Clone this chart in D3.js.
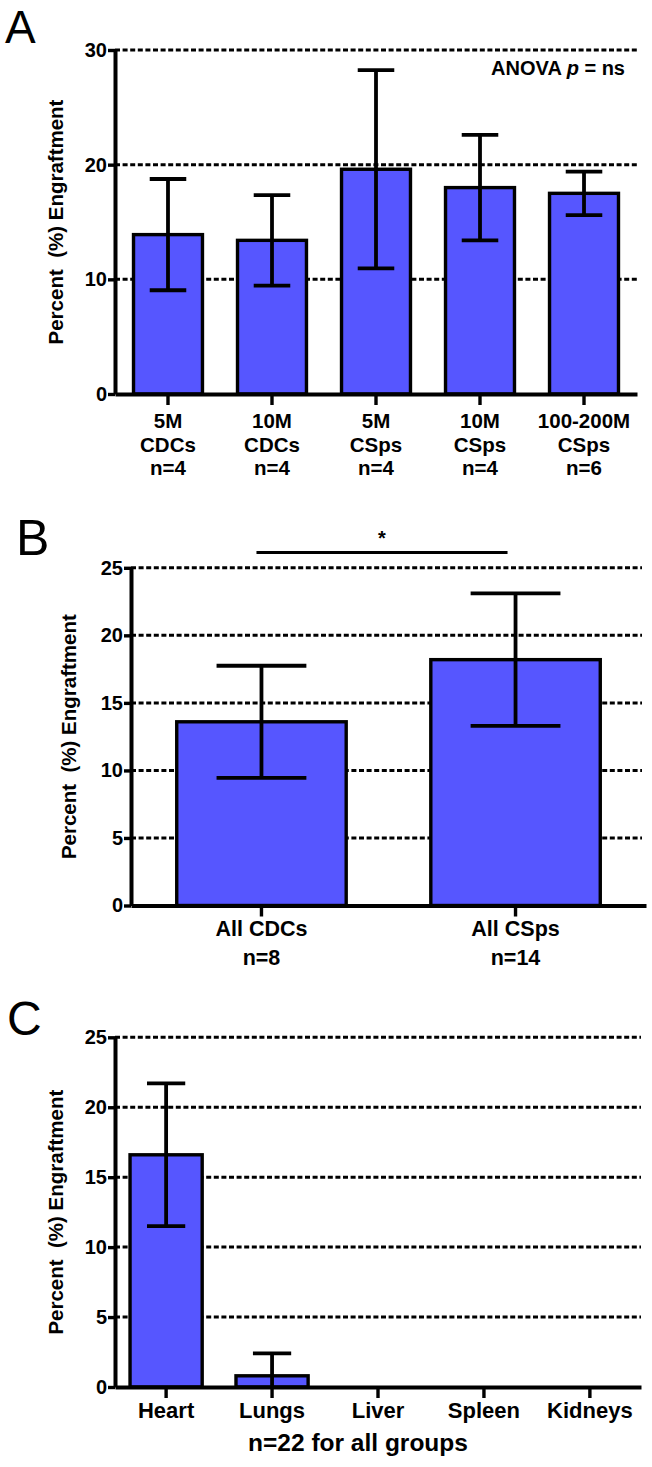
<!DOCTYPE html>
<html>
<head>
<meta charset="utf-8">
<script src="https://cdn.jsdelivr.net/npm/d3@7"></script>
<style>
  html, body { margin: 0; padding: 0; background: #fff; }
  svg { display: block; font-family: Arial, "Liberation Sans", Helvetica, sans-serif; }
</style>
</head>
<body>
<svg id="chart" width="652" height="1467"></svg>
<script>
// ---------- Data ----------
const catA = ["5M CDCs", "10M CDCs", "5M CSps", "10M CSps", "100-200M CSps"];
const nA = ["n=4", "n=4", "n=4", "n=4", "n=6"];
const meanA = [13.9, 13.4, 19.6, 18.0, 17.5];
const semA = [4.85, 3.95, 8.65, 4.6, 1.9];
const ticksA = [0, 10, 20, 30];

const catB = ["All CDCs", "All CSps"];
const nB = ["n=8", "n=14"];
const meanB = [13.6, 18.2];
const semB = [4.15, 4.9];
const ticksB = [0, 5, 10, 15, 20, 25];

const catC = ["Heart", "Lungs", "Liver", "Spleen", "Kidneys"];
const meanC = [16.6, 0.8, 0, 0, 0];
const semC = [5.1, 1.6, 0, 0, 0];
const ticksC = [0, 5, 10, 15, 20, 25];

const yTitle = "Percent  (%) Engraftment";
const BAR = "#5656ff";

const svg = d3.select("#chart");

function panel(opt) {
  const g = svg.append("g");
  const x = d3.scaleBand().domain(opt.cats).range(opt.xr)
    .paddingInner(opt.pi).paddingOuter(opt.po);
  const y = d3.scaleLinear().domain([0, opt.max]).range(opt.yr);
  const data = opt.cats.map((c, i) => ({ c, m: opt.mean[i], e: opt.sem[i] }));

  // grid lines (dashed) for non-zero ticks
  g.append("g").selectAll("line").data(opt.ticks.filter(t => t > 0)).join("line")
    .attr("x1", opt.xr[0]).attr("x2", opt.gridEnd)
    .attr("y1", d => y(d)).attr("y2", d => y(d))
    .attr("stroke", "#000").attr("stroke-width", 3)
    .attr("stroke-dasharray", "5,2.6");

  // bars
  g.append("g").selectAll("rect").data(data.filter(d => d.m > 0)).join("rect")
    .attr("x", d => x(d.c)).attr("width", x.bandwidth())
    .attr("y", d => y(d.m)).attr("height", d => y(0) - y(d.m))
    .attr("fill", BAR).attr("stroke", "#000").attr("stroke-width", 3.4);

  // error bars
  const cw = x.bandwidth() * 0.53;
  const eg = g.append("g").attr("stroke", "#000").attr("stroke-width", 3.8).attr("fill", "none");
  data.filter(d => d.e > 0).forEach(d => {
    const cx = x(d.c) + x.bandwidth() / 2;
    const lo = Math.max(0, d.m - d.e), hi = d.m + d.e;
    eg.append("line").attr("x1", cx).attr("x2", cx).attr("y1", y(lo)).attr("y2", y(hi));
    eg.append("line").attr("x1", cx - cw / 2).attr("x2", cx + cw / 2).attr("y1", y(hi)).attr("y2", y(hi));
    if (d.m - d.e > 0)
      eg.append("line").attr("x1", cx - cw / 2).attr("x2", cx + cw / 2).attr("y1", y(lo)).attr("y2", y(lo));
  });

  // y axis
  const ya = g.append("g").attr("transform", `translate(${opt.xr[0]},0)`)
    .call(d3.axisLeft(y).tickValues(opt.ticks).tickSize(7).tickSizeOuter(0).tickPadding(1));
  ya.select(".domain").attr("stroke-width", 4);
  ya.selectAll(".tick line").attr("stroke-width", 3.4);
  ya.selectAll(".tick text").attr("font-size", opt.tickFont).attr("font-weight", "bold")
    .attr("fill", "#000").attr("font-family", "Arial, 'Liberation Sans', sans-serif");

  // x axis
  const xa = g.append("g").attr("transform", `translate(0,${y(0)})`)
    .call(d3.axisBottom(x).tickSize(11).tickSizeOuter(0).tickFormat(""));
  xa.select(".domain").attr("stroke-width", 4);
  xa.selectAll(".tick line").attr("stroke-width", 3.4);

  // y title
  g.append("text")
    .attr("transform", `translate(${opt.titleX},${(opt.yr[0] + opt.yr[1]) / 2}) rotate(-90)`)
    .attr("text-anchor", "middle").attr("dy", "0.35em")
    .attr("font-size", 20.5).attr("font-weight", "bold")
    .style("white-space", "pre").text(yTitle);

  // panel letter
  g.append("text").attr("x", opt.letter[0]).attr("y", opt.letter[1])
    .attr("font-size", opt.letter[3]).attr("font-family", "Arial, 'Liberation Sans', sans-serif")
    .text(opt.letter[2]);

  return { g, x, y };
}

// ---------- Panel A ----------
const A = panel({
  cats: catA, mean: meanA, sem: semA, ticks: ticksA, max: 30,
  xr: [115, 637], pi: 0.337, po: 0.178, yr: [394, 50], gridEnd: 637,
  tickFont: 20, titleX: 56, letter: [5, 42.5, "A", 46]
});
catA.forEach((c, i) => {
  const cx = A.x(c) + A.x.bandwidth() / 2;
  const parts = c.split(" ").concat([nA[i]]);
  const t = A.g.append("text").attr("text-anchor", "middle").attr("font-size", 20.5)
    .attr("font-weight", "bold");
  parts.forEach((p, k) => {
    t.append("tspan").attr("x", cx).attr("y", 428 + k * 23.5).text(p);
  });
});
A.g.append("text").attr("x", 625).attr("y", 75).attr("text-anchor", "end")
  .attr("font-size", 20).attr("font-weight", "bold")
  .style("white-space", "pre")
  .call(t => {
    t.append("tspan").text("ANOVA ");
    t.append("tspan").attr("font-style", "italic").text("p");
    t.append("tspan").text(" = ns");
  });

// ---------- Panel B ----------
const B = panel({
  cats: catB, mean: meanB, sem: semB, ticks: ticksB, max: 25,
  xr: [131, 646], pi: 0.333, po: 0.18, yr: [905.5, 567.8], gridEnd: 642,
  tickFont: 20, titleX: 69, letter: [16, 555, "B", 50]
});
catB.forEach((c, i) => {
  const cx = B.x(c) + B.x.bandwidth() / 2;
  B.g.append("text").attr("x", cx).attr("y", 936).attr("text-anchor", "middle")
    .attr("font-size", 21.5).attr("font-weight", "bold").text(c);
  B.g.append("text").attr("x", cx).attr("y", 965).attr("text-anchor", "middle")
    .attr("font-size", 21.5).attr("font-weight", "bold").text(nB[i]);
});
// significance bracket
{
  const c1 = B.x(catB[0]) + B.x.bandwidth() / 2 - 5;
  const c2 = B.x(catB[1]) + B.x.bandwidth() / 2 - 8;
  B.g.append("line").attr("x1", c1).attr("x2", c2).attr("y1", 552.5).attr("y2", 552.5)
    .attr("stroke", "#000").attr("stroke-width", 3);
  B.g.append("text").attr("x", (c1 + c2) / 2).attr("y", 545).attr("text-anchor", "middle")
    .attr("font-size", 20).attr("font-weight", "bold").text("*");
}

// ---------- Panel C ----------
const C = panel({
  cats: catC, mean: meanC, sem: semC, ticks: ticksC, max: 25,
  xr: [115, 641], pi: 0.319, po: 0.142, yr: [1387, 1037.3], gridEnd: 641,
  tickFont: 20, titleX: 56, letter: [7, 1035, "C", 48]
});
catC.forEach(c => {
  const cx = C.x(c) + C.x.bandwidth() / 2;
  C.g.append("text").attr("x", cx).attr("y", 1418).attr("text-anchor", "middle")
    .attr("font-size", 22).attr("font-weight", "bold").text(c);
});
C.g.append("text").attr("x", 358).attr("y", 1451).attr("text-anchor", "middle")
  .attr("font-size", 24.5).attr("font-weight", "bold").text("n=22 for all groups");
</script>
</body>
</html>
